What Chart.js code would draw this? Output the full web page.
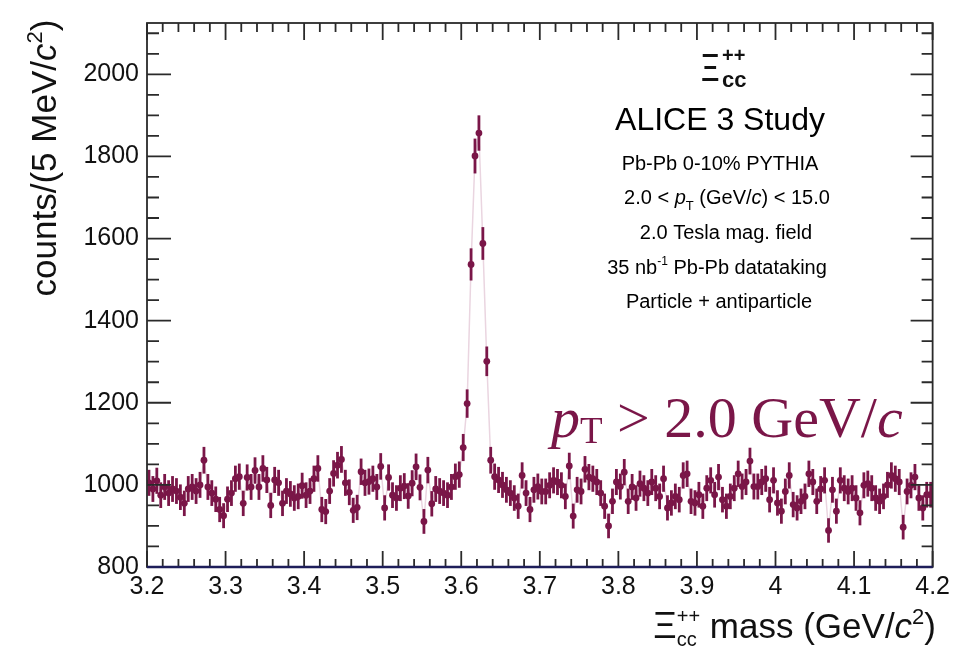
<!DOCTYPE html>
<html>
<head>
<meta charset="utf-8">
<script src="https://cdn.jsdelivr.net/npm/chart.js@4.4.1/dist/chart.umd.min.js"></script>
<style>
  html, body { margin: 0; padding: 0; background: #fff; }
  #wrap { width: 955px; height: 650px; }
</style>
</head>
<body>
<div id="wrap"><canvas id="massChart" width="955" height="650"></canvas></div>
<script>
// histogram: 5 MeV bins from 3.2 to 4.2 GeV/c^2
const binLow = 3.2;
const binWidth = 0.005;
const counts = [
  1005, 990, 1010, 975, 995, 980, 990, 985, 970, 955,
  990, 995, 985, 1000, 1060, 995, 980, 965, 940, 925,
  965, 980, 1015, 1020, 955, 1018, 995, 1035, 995, 1040,
  1012, 950, 1012, 1005, 955, 985, 978, 968, 972, 998,
  975, 985, 1015, 1040, 940, 935, 985, 1028, 1048, 1062,
  1005, 982, 938, 945, 1032, 1005, 1008, 1015, 995, 1045,
  944, 1018, 975, 968, 992, 997, 973, 1004, 1044, 994,
  911, 1036, 954, 990, 985, 980, 975, 995, 1020, 1025,
  1091, 1198, 1537, 1801, 1857, 1588, 1301, 1060, 1020, 1012,
  1000, 988, 980, 968, 948, 1023, 980, 940, 988, 996,
  984, 984, 999, 1011, 1007, 999, 972, 1046, 924, 988,
  984, 1038, 1019, 1015, 1007, 980, 948, 900, 960, 1007,
  996, 1031, 960, 995, 968, 1003, 992, 980, 1007, 992,
  972, 1015, 944, 956, 972, 964, 1023, 1027, 960, 956,
  976, 948, 992, 1011, 976, 1019, 964, 948, 972, 992,
  1027, 996, 1007, 1058, 996, 996, 1007, 1015, 964, 1011,
  956, 936, 984, 1023, 952, 944, 960, 972, 1027, 1007,
  960, 990, 1011, 889, 988, 936, 1011, 992, 984, 992,
  968, 932, 999, 1003, 992, 968, 960, 972, 1000, 1023,
  1015, 1007, 897, 984, 999, 1019, 968, 944, 976, 976
];
const xTickValues = [3.2, 3.3, 3.4, 3.5, 3.6, 3.7, 3.8, 3.9, 4.0, 4.1, 4.2];
const xTickLabels = ['3.2', '3.3', '3.4', '3.5', '3.6', '3.7', '3.8', '3.9', '4', '4.1', '4.2'];
const yTickValues = [800, 1000, 1200, 1400, 1600, 1800, 2000];
const yTickLabels = ['800', '1000', '1200', '1400', '1600', '1800', '2000'];

const SANS = '"Liberation Sans", Arial, Helvetica, sans-serif';
const SERIF = '"Liberation Serif", "Times New Roman", serif';
const MAROON = '#7a1648';

const points = counts.map((c, i) => ({ x: binLow + (i + 0.5) * binWidth, y: c }));

// draw a run of text pieces with their own font and vertical shift
// a piece with back:true is placed over the previous one (stacked sub/sup)
function drawRich(ctx, parts, x, y, align) {
  let total = 0, prev = 0;
  parts.forEach(p => {
    ctx.font = p.f;
    p.w = ctx.measureText(p.t).width;
    if (p.back) { p.adv = Math.max(p.w - prev, 0); } else { p.adv = p.w; }
    total += p.adv;
    prev = p.w;
  });
  let cx = x;
  if (align === 'center') cx = x - total / 2;
  if (align === 'right') cx = x - total;
  ctx.textAlign = 'left';
  ctx.textBaseline = 'alphabetic';
  let last = 0;
  parts.forEach(p => {
    ctx.font = p.f;
    const sx = p.back ? cx - last : cx;
    ctx.fillText(p.t, sx, y + (p.dy || 0));
    cx += p.adv;
    last = p.w;
  });
}

const rootFrame = {
  id: 'rootFrame',
  afterDatasetsDraw(chart) {
    const ctx = chart.ctx;
    const ys = chart.scales.y;
    const meta = chart.getDatasetMeta(0);
    // error bars sqrt(N)
    ctx.save();
    ctx.strokeStyle = MAROON;
    ctx.lineWidth = 2.8;
    meta.data.forEach((el, i) => {
      const v = counts[i], e = Math.sqrt(v);
      ctx.beginPath();
      ctx.moveTo(el.x, ys.getPixelForValue(v + e));
      ctx.lineTo(el.x, ys.getPixelForValue(v - e));
      ctx.stroke();
    });
    ctx.restore();
  },
  afterDraw(chart) {
    const ctx = chart.ctx;
    const a = chart.chartArea;
    const xs = chart.scales.x, ys = chart.scales.y;
    ctx.save();
    ctx.strokeStyle = '#2a2a2a';
    ctx.lineWidth = 1.8;
    ctx.strokeRect(a.left, a.top, a.right - a.left, a.bottom - a.top);

    // x ticks (inside, bottom and top)
    ctx.beginPath();
    for (let k = 0; k <= 50; k++) {
      const px = xs.getPixelForValue(3.2 + k * 0.02);
      const major = k % 5 === 0;
      ctx.moveTo(px, a.bottom); ctx.lineTo(px, a.bottom - (major ? 16 : 8));
      ctx.moveTo(px, a.top); ctx.lineTo(px, a.top + (major ? 17 : 9));
    }
    // y ticks (inside, left and right)
    for (let v = 800; v <= 2125; v += 50) {
      const py = ys.getPixelForValue(v);
      const major = (v - 800) % 200 === 0;
      ctx.moveTo(a.left, py); ctx.lineTo(a.left + (major ? 24 : 12), py);
      ctx.moveTo(a.right, py); ctx.lineTo(a.right - (major ? 22 : 11), py);
    }
    ctx.stroke();

    // dark blue line on the lower edge
    ctx.strokeStyle = '#1e1e5a';
    ctx.lineWidth = 2.5;
    ctx.beginPath();
    ctx.moveTo(a.left, a.bottom); ctx.lineTo(a.right, a.bottom);
    ctx.stroke();

    // axis titles
    ctx.fillStyle = '#111';
    drawRich(ctx, [
      { t: '\u039E', f: '36px ' + SANS },
      { t: 'cc', f: '20px ' + SANS, dy: 8 },
      { t: '++', f: '20px ' + SANS, dy: -15, back: true },
      { t: ' mass (GeV/', f: '35px ' + SANS },
      { t: 'c', f: 'italic 35px ' + SANS },
      { t: '2', f: '22px ' + SANS, dy: -14 },
      { t: ')', f: '35px ' + SANS }
    ], 936, 638, 'right');

    ctx.save();
    ctx.translate(44, 158);
    ctx.rotate(-Math.PI / 2);
    drawRich(ctx, [
      { t: 'counts/(5 MeV/', f: '35px ' + SANS },
      { t: 'c', f: 'italic 35px ' + SANS },
      { t: '2', f: '22px ' + SANS, dy: -14 },
      { t: ')', f: '35px ' + SANS }
    ], 0, 12, 'center');
    ctx.restore();

    // particle symbol
    ctx.save();
    ctx.translate(701, 81);
    ctx.scale(0.75, 1);
    ctx.font = '38px ' + SANS;
    ctx.textAlign = 'left';
    ctx.fillText('\u039E', 0, 0);
    ctx.restore();
    ctx.font = 'bold 20px ' + SANS;
    ctx.fillText('++', 722, 62);
    ctx.font = 'bold 22px ' + SANS;
    ctx.fillText('cc', 722, 87);

    // info block
    ctx.fillStyle = '#000';
    ctx.textAlign = 'center';
    ctx.font = '32px ' + SANS;
    ctx.fillText('ALICE 3 Study', 720, 130);
    ctx.font = '20px ' + SANS;
    ctx.fillText('Pb-Pb 0-10% PYTHIA', 720, 170);
    drawRich(ctx, [
      { t: '2.0 < ', f: '20px ' + SANS },
      { t: 'p', f: 'italic 20px ' + SANS },
      { t: 'T', f: '13px ' + SANS, dy: 6 },
      { t: ' (GeV/', f: '20px ' + SANS },
      { t: 'c', f: 'italic 20px ' + SANS },
      { t: ') < 15.0', f: '20px ' + SANS }
    ], 727, 204, 'center');
    ctx.textAlign = 'center';
    ctx.font = '20px ' + SANS;
    ctx.fillText('2.0 Tesla mag. field', 726, 239);
    drawRich(ctx, [
      { t: '35 nb', f: '20px ' + SANS },
      { t: '-1', f: '12px ' + SANS, dy: -9 },
      { t: ' Pb-Pb datataking', f: '20px ' + SANS }
    ], 717, 274, 'center');
    ctx.textAlign = 'center';
    ctx.font = '20px ' + SANS;
    ctx.fillText('Particle + antiparticle', 719, 308);

    // pT threshold label
    ctx.fillStyle = MAROON;
    drawRich(ctx, [
      { t: 'p', f: 'italic 58px ' + SERIF },
      { t: 'T', f: '37px ' + SERIF, dy: 6 },
      { t: ' > 2.0 GeV/', f: '58px ' + SERIF },
      { t: 'c', f: 'italic 58px ' + SERIF }
    ], 551, 437, 'left');
    ctx.restore();
  }
};

new Chart(document.getElementById('massChart').getContext('2d'), {
  type: 'line',
  data: {
    datasets: [{
      data: points,
      borderColor: '#ead5e0',
      borderWidth: 1.5,
      pointRadius: 3.4,
      pointBackgroundColor: MAROON,
      pointBorderWidth: 0,
      tension: 0
    }]
  },
  options: {
    responsive: false,
    animation: false,
    devicePixelRatio: 1,
    layout: { padding: { left: 0, right: 19, top: 9, bottom: 0 } },
    plugins: { legend: { display: false }, tooltip: { enabled: false } },
    scales: {
      x: {
        type: 'linear',
        min: 3.2,
        max: 4.2,
        grid: { display: false, drawTicks: false },
        border: { display: false },
        afterBuildTicks: s => { s.ticks = xTickValues.map(v => ({ value: v })); },
        afterFit: s => { s.height = 83; },
        ticks: {
          padding: 5,
          color: '#111',
          font: { family: SANS, size: 25 },
          maxRotation: 0,
          autoSkip: false,
          callback: (v, i) => xTickLabels[i]
        }
      },
      y: {
        min: 800,
        max: 2125,
        grid: { display: false, drawTicks: false },
        border: { display: false },
        afterBuildTicks: s => { s.ticks = yTickValues.map(v => ({ value: v })); },
        afterFit: s => { s.width = 147; },
        ticks: {
          padding: 8,
          color: '#111',
          font: { family: SANS, size: 25 },
          callback: (v, i) => yTickLabels[i]
        }
      }
    }
  },
  plugins: [rootFrame]
});
</script>
</body>
</html>
